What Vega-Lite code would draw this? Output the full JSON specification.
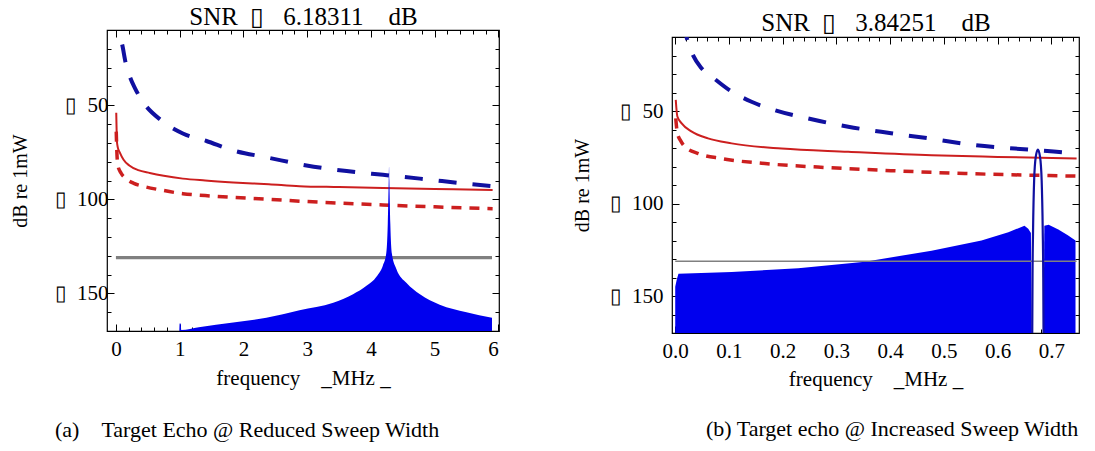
{
  "$schema": "https://vega.github.io/schema/vega-lite/v6.json",
  "autosize": {"type": "pad"},
  "padding": {"left": 9, "top": 3, "right": 5, "bottom": 5},
  "background": "white",
  "config": {
    "view": {"stroke": "black", "strokeWidth": 1.2},
    "font": "Liberation Serif",
    "axis": {"grid": false, "domain": false, "tickColor": "black", "labelColor": "black", "titleColor": "black", "labelFont": "Liberation Serif", "titleFont": "Liberation Serif", "labelFontSize": 21, "titleFontSize": 21, "titleFontWeight": "normal", "tickWidth": 1}
  },
  "datasets": {
    "L": [
      {"s": "bd", "f": 0.02, "v": 0}, {"s": "bd", "f": 0.035, "v": -10}, {"s": "bd", "f": 0.1, "v": -18}, {"s": "bd", "f": 0.15, "v": -27}, {"s": "bd", "f": 0.21, "v": -34}, {"s": "bd", "f": 0.3, "v": -41}, {"s": "bd", "f": 0.42, "v": -48}, {"s": "bd", "f": 0.71, "v": -58}, {"s": "bd", "f": 1.05, "v": -65}, {"s": "bd", "f": 1.42, "v": -69}, {"s": "bd", "f": 1.84, "v": -74}, {"s": "bd", "f": 2.41, "v": -78}, {"s": "bd", "f": 2.99, "v": -82}, {"s": "bd", "f": 3.62, "v": -85}, {"s": "bd", "f": 4.19, "v": -87}, {"s": "bd", "f": 4.77, "v": -89}, {"s": "bd", "f": 5.58, "v": -92}, {"s": "bd", "f": 5.9, "v": -93},
      {"s": "rs", "f": 0.005, "v": -54}, {"s": "rs", "f": 0.01, "v": -62}, {"s": "rs", "f": 0.015, "v": -69}, {"s": "rs", "f": 0.03, "v": -72.5}, {"s": "rs", "f": 0.06, "v": -75}, {"s": "rs", "f": 0.12, "v": -79}, {"s": "rs", "f": 0.21, "v": -82}, {"s": "rs", "f": 0.35, "v": -84.5}, {"s": "rs", "f": 0.53, "v": -86}, {"s": "rs", "f": 0.75, "v": -87.5}, {"s": "rs", "f": 1.05, "v": -89}, {"s": "rs", "f": 1.4, "v": -90}, {"s": "rs", "f": 1.84, "v": -91}, {"s": "rs", "f": 2.4, "v": -92}, {"s": "rs", "f": 2.88, "v": -93}, {"s": "rs", "f": 3.5, "v": -93.5}, {"s": "rs", "f": 4.19, "v": -94}, {"s": "rs", "f": 5.0, "v": -94.5}, {"s": "rs", "f": 5.91, "v": -95},
      {"s": "rd", "f": 0.005, "v": -64}, {"s": "rd", "f": 0.015, "v": -75}, {"s": "rd", "f": 0.03, "v": -82}, {"s": "rd", "f": 0.08, "v": -86}, {"s": "rd", "f": 0.16, "v": -89}, {"s": "rd", "f": 0.28, "v": -91.5}, {"s": "rd", "f": 0.42, "v": -93}, {"s": "rd", "f": 0.7, "v": -95}, {"s": "rd", "f": 1.05, "v": -97}, {"s": "rd", "f": 1.4, "v": -98}, {"s": "rd", "f": 1.84, "v": -99}, {"s": "rd", "f": 2.4, "v": -100}, {"s": "rd", "f": 2.88, "v": -101}, {"s": "rd", "f": 3.5, "v": -102}, {"s": "rd", "f": 4.19, "v": -103}, {"s": "rd", "f": 5.0, "v": -104}, {"s": "rd", "f": 5.91, "v": -105},
      {"s": "g", "f": 0, "v": -131}, {"s": "g", "f": 5.9, "v": -131},
      {"s": "sp", "f": 0.995, "v": -170}, {"s": "sp", "f": 1.0, "v": -166}, {"s": "sp", "f": 1.015, "v": -166}, {"s": "sp", "f": 1.025, "v": -169.5}, {"s": "sp", "f": 1.3, "v": -168}, {"s": "sp", "f": 1.84, "v": -165.5}, {"s": "sp", "f": 2.36, "v": -163}, {"s": "sp", "f": 2.88, "v": -159}, {"s": "sp", "f": 3.41, "v": -155}, {"s": "sp", "f": 3.72, "v": -150.5}, {"s": "sp", "f": 3.93, "v": -146}, {"s": "sp", "f": 4.09, "v": -141}, {"s": "sp", "f": 4.19, "v": -135}, {"s": "sp", "f": 4.24, "v": -129}, {"s": "sp", "f": 4.265, "v": -113}, {"s": "sp", "f": 4.28, "v": -90}, {"s": "sp", "f": 4.285, "v": -82.5}, {"s": "sp", "f": 4.29, "v": -90}, {"s": "sp", "f": 4.305, "v": -113}, {"s": "sp", "f": 4.33, "v": -129}, {"s": "sp", "f": 4.4, "v": -137}, {"s": "sp", "f": 4.56, "v": -144.5}, {"s": "sp", "f": 4.77, "v": -150.5}, {"s": "sp", "f": 5.08, "v": -156}, {"s": "sp", "f": 5.5, "v": -160}, {"s": "sp", "f": 5.9, "v": -163}
    ],
    "R": [
      {"s": "bd", "f": 0.015, "v": -2}, {"s": "bd", "f": 0.021, "v": -10}, {"s": "bd", "f": 0.03, "v": -17.8}, {"s": "bd", "f": 0.049, "v": -26.9}, {"s": "bd", "f": 0.068, "v": -31.4}, {"s": "bd", "f": 0.105, "v": -39.5}, {"s": "bd", "f": 0.142, "v": -45}, {"s": "bd", "f": 0.185, "v": -49.5}, {"s": "bd", "f": 0.247, "v": -54}, {"s": "bd", "f": 0.322, "v": -58.5}, {"s": "bd", "f": 0.402, "v": -62}, {"s": "bd", "f": 0.477, "v": -65}, {"s": "bd", "f": 0.557, "v": -68.4}, {"s": "bd", "f": 0.632, "v": -70.3}, {"s": "bd", "f": 0.725, "v": -72.4}, {"s": "bd", "f": 0.745, "v": -73},
      {"s": "rs", "f": 0.001, "v": -44}, {"s": "rs", "f": 0.002, "v": -48}, {"s": "rs", "f": 0.004, "v": -53}, {"s": "rs", "f": 0.012, "v": -56.7}, {"s": "rs", "f": 0.03, "v": -61}, {"s": "rs", "f": 0.061, "v": -64.8}, {"s": "rs", "f": 0.105, "v": -67.5}, {"s": "rs", "f": 0.198, "v": -70.3}, {"s": "rs", "f": 0.322, "v": -72}, {"s": "rs", "f": 0.477, "v": -73.9}, {"s": "rs", "f": 0.6, "v": -74.8}, {"s": "rs", "f": 0.747, "v": -75.7},
      {"s": "rd", "f": 0.001, "v": -54}, {"s": "rd", "f": 0.004, "v": -62}, {"s": "rd", "f": 0.01, "v": -66}, {"s": "rd", "f": 0.018, "v": -69.3}, {"s": "rd", "f": 0.043, "v": -73}, {"s": "rd", "f": 0.086, "v": -75.7}, {"s": "rd", "f": 0.167, "v": -78.4}, {"s": "rd", "f": 0.29, "v": -80.7}, {"s": "rd", "f": 0.415, "v": -82.4}, {"s": "rd", "f": 0.539, "v": -83.8}, {"s": "rd", "f": 0.663, "v": -84.7}, {"s": "rd", "f": 0.747, "v": -85.2},
      {"s": "g", "f": 0, "v": -131.2}, {"s": "g", "f": 0.747, "v": -131.2},
      {"s": "sp", "seg": 1, "f": 0.0, "v": -145}, {"s": "sp", "seg": 1, "f": 0.003, "v": -141}, {"s": "sp", "seg": 1, "f": 0.006, "v": -138}, {"s": "sp", "seg": 1, "f": 0.105, "v": -137}, {"s": "sp", "seg": 1, "f": 0.229, "v": -135}, {"s": "sp", "seg": 1, "f": 0.353, "v": -131.5}, {"s": "sp", "seg": 1, "f": 0.477, "v": -125.5}, {"s": "sp", "seg": 1, "f": 0.57, "v": -120}, {"s": "sp", "seg": 1, "f": 0.62, "v": -115.6}, {"s": "sp", "seg": 1, "f": 0.65, "v": -112}, {"s": "sp", "seg": 1, "f": 0.657, "v": -113.7}, {"s": "sp", "seg": 1, "f": 0.662, "v": -116}, {"s": "sp", "seg": 1, "f": 0.6635, "v": -170},
      {"s": "sp", "seg": 2, "f": 0.6855, "v": -170}, {"s": "sp", "seg": 2, "f": 0.687, "v": -112}, {"s": "sp", "seg": 2, "f": 0.695, "v": -111.5}, {"s": "sp", "seg": 2, "f": 0.713, "v": -114}, {"s": "sp", "seg": 2, "f": 0.73, "v": -117}, {"s": "sp", "seg": 2, "f": 0.745, "v": -120},
      {"s": "lobe", "f": 0.6645, "v": -170}, {"s": "lobe", "f": 0.665, "v": -140}, {"s": "lobe", "f": 0.666, "v": -114.6}, {"s": "lobe", "f": 0.668, "v": -87.4}, {"s": "lobe", "f": 0.671, "v": -74.8}, {"s": "lobe", "f": 0.675, "v": -70.8}, {"s": "lobe", "f": 0.679, "v": -74.8}, {"s": "lobe", "f": 0.682, "v": -87.4}, {"s": "lobe", "f": 0.684, "v": -114.6}, {"s": "lobe", "f": 0.685, "v": -140}, {"s": "lobe", "f": 0.6855, "v": -170}
    ]
  },
  "hconcat": [
    {
      "width": 392,
      "height": 301,
      "title": {"text": "(a)\u00a0\u00a0\u00a0\u00a0Target Echo @ Reduced Sweep Width", "orient": "bottom", "anchor": "start", "frame": "group", "dx": -52, "offset": 32, "font": "Liberation Serif", "fontSize": 22, "fontWeight": "normal", "color": "black"},
      "resolve": {"axis": {"x": "independent", "y": "independent"}},
      "data": {"name": "L"},
      "layer": [
        {
          "transform": [{"filter": "datum.s == 'g'"}],
          "mark": {"type": "line", "color": "#808080", "strokeWidth": 3.4, "clip": true},
          "encoding": {
            "x": {"field": "f", "type": "quantitative", "scale": {"domain": [-0.14, 6.01], "nice": false, "zero": false},
                  "axis": {"orient": "bottom", "values": [0.2,0.4,0.6,0.8,1.2,1.4,1.6,1.8,2.2,2.4,2.6,2.8,3.2,3.4,3.6,3.8,4.2,4.4,4.6,4.8,5.2,5.4,5.6,5.8], "tickSize": -4, "labels": false, "title": null}},
            "y": {"field": "v", "type": "quantitative", "scale": {"domain": [-170, -10], "nice": false, "zero": false},
                  "axis": {"orient": "left", "values": [-20,-30,-40,-60,-70,-80,-90,-110,-120,-130,-140,-160], "tickSize": -4, "labels": false, "title": null}}
          }
        },
        {
          "transform": [{"filter": "datum.s == 'rs'"}],
          "mark": {"type": "line", "color": "#cc1f1f", "strokeWidth": 2, "clip": true, "interpolate": "monotone"},
          "encoding": {
            "x": {"field": "f", "type": "quantitative", "axis": {"orient": "top", "values": [0,1,2,3,4,5,6], "tickSize": -7, "labels": false, "title": "SNR\u00a0\u00a0\u25af\u00a0\u00a0\u00a06.18311\u00a0\u00a0\u00a0\u00a0dB", "titleFontSize": 25, "titlePadding": 0}},
            "y": {"field": "v", "type": "quantitative", "axis": {"orient": "right", "values": [-50, -100, -150], "tickSize": -7, "labels": false, "title": null}}
          }
        },
        {
          "transform": [{"filter": "datum.s == 'rd'"}],
          "mark": {"type": "line", "color": "#cc1f1f", "strokeWidth": 3.5, "strokeDash": [10, 8], "clip": true, "interpolate": "monotone"},
          "encoding": {
            "x": {"field": "f", "type": "quantitative", "axis": {"orient": "top", "values": [0.2,0.4,0.6,0.8,1.2,1.4,1.6,1.8,2.2,2.4,2.6,2.8,3.2,3.4,3.6,3.8,4.2,4.4,4.6,4.8,5.2,5.4,5.6,5.8], "tickSize": -4, "labels": false, "title": null}},
            "y": {"field": "v", "type": "quantitative", "axis": {"orient": "right", "values": [-20,-30,-40,-60,-70,-80,-90,-110,-120,-130,-140,-160], "tickSize": -4, "labels": false, "title": null}}
          }
        },
        {
          "transform": [{"filter": "datum.s == 'bd'"}],
          "mark": {"type": "line", "color": "#1010a0", "strokeWidth": 4, "strokeDash": [18, 16], "clip": true, "interpolate": "monotone"},
          "encoding": {
            "x": {"field": "f", "type": "quantitative", "axis": null},
            "y": {"field": "v", "type": "quantitative", "axis": null}
          }
        },
        {
          "transform": [{"filter": "datum.s == 'sp'"}],
          "mark": {"type": "area", "color": "#0000ee", "clip": true, "interpolate": "monotone"},
          "encoding": {
            "x": {"field": "f", "type": "quantitative",
                  "axis": {"orient": "bottom", "values": [0,1,2,3,4,5,6], "tickSize": -7, "labelPadding": 14, "title": "frequency\u00a0\u00a0\u00a0\u00a0_MHz\u00a0_", "titlePadding": 8}},
            "y": {"field": "v", "type": "quantitative",
                  "axis": {"orient": "left", "values": [-50, -100, -150], "tickSize": -7, "labelPadding": 6, "labelExpr": "'\u25af\u00a0\u00a0' + (-datum.value)", "title": "dB re 1mW", "titleFontSize": 20, "titlePadding": 24}},
            "y2": {"datum": -170}
          }
        }
      ]
    },
    {
      "vconcat": [
        {
          "width": 407,
          "height": 7,
          "view": {"stroke": null},
          "data": {"values": [{"k": 1}]},
          "mark": {"type": "point", "opacity": 0}
        },
        {
          "width": 407,
          "height": 296,
          "title": {"text": "(b) Target echo @ Increased Sweep Width", "orient": "bottom", "anchor": "start", "frame": "group", "dx": 34, "offset": 30, "font": "Liberation Serif", "fontSize": 22, "fontWeight": "normal", "color": "black"},
          "resolve": {"axis": {"x": "independent", "y": "independent"}},
          "data": {"name": "R"},
          "layer": [
            {
              "transform": [{"filter": "datum.s == 'sp'"}],
              "mark": {"type": "area", "color": "#0000ee", "clip": true},
              "encoding": {
                "x": {"field": "f", "type": "quantitative", "scale": {"domain": [-0.006, 0.7515], "nice": false, "zero": false},
                      "axis": {"orient": "bottom", "values": [0,0.1,0.2,0.3,0.4,0.5,0.6,0.7], "format": ".1f", "tickSize": -7, "labelPadding": 14, "title": "frequency\u00a0\u00a0\u00a0\u00a0_MHz\u00a0_", "titlePadding": 7}},
                "y": {"field": "v", "type": "quantitative", "scale": {"domain": [-170, -10], "nice": false, "zero": false},
                      "axis": {"orient": "left", "values": [-50, -100, -150], "tickSize": -7, "labelPadding": 16, "labelExpr": "'\u25af\u00a0\u00a0' + (-datum.value)", "title": "dB re 1mW", "titleFontSize": 20, "titlePadding": 17}},
                "y2": {"datum": -170},
                "detail": {"field": "seg"}
              }
            },
            {
              "transform": [{"filter": "datum.s == 'g'"}],
              "mark": {"type": "line", "color": "#808080", "strokeWidth": 1.6, "clip": true},
              "encoding": {
                "x": {"field": "f", "type": "quantitative",
                      "axis": {"orient": "bottom", "values": [0.02,0.04,0.06,0.08,0.12,0.14,0.16,0.18,0.22,0.24,0.26,0.28,0.32,0.34,0.36,0.38,0.42,0.44,0.46,0.48,0.52,0.54,0.56,0.58,0.62,0.64,0.66,0.68,0.72,0.74], "tickSize": -4, "labels": false, "title": null}},
                "y": {"field": "v", "type": "quantitative",
                      "axis": {"orient": "left", "values": [-20,-30,-40,-60,-70,-80,-90,-110,-120,-130,-140,-160], "tickSize": -4, "labels": false, "title": null}}
              }
            },
            {
              "transform": [{"filter": "datum.s == 'rs'"}],
              "mark": {"type": "line", "color": "#cc1f1f", "strokeWidth": 2, "clip": true, "interpolate": "monotone"},
              "encoding": {
                "x": {"field": "f", "type": "quantitative", "axis": {"orient": "top", "values": [0,0.1,0.2,0.3,0.4,0.5,0.6,0.7], "tickSize": -7, "labels": false, "title": "SNR\u00a0\u00a0\u25af\u00a0\u00a0\u00a03.84251\u00a0\u00a0\u00a0\u00a0dB", "titleFontSize": 25, "titlePadding": 1}},
                "y": {"field": "v", "type": "quantitative", "axis": {"orient": "right", "values": [-50, -100, -150], "tickSize": -7, "labels": false, "title": null}}
              }
            },
            {
              "transform": [{"filter": "datum.s == 'rd'"}],
              "mark": {"type": "line", "color": "#cc1f1f", "strokeWidth": 3.5, "strokeDash": [10, 8], "clip": true, "interpolate": "monotone"},
              "encoding": {
                "x": {"field": "f", "type": "quantitative", "axis": {"orient": "top", "values": [0.02,0.04,0.06,0.08,0.12,0.14,0.16,0.18,0.22,0.24,0.26,0.28,0.32,0.34,0.36,0.38,0.42,0.44,0.46,0.48,0.52,0.54,0.56,0.58,0.62,0.64,0.66,0.68,0.72,0.74], "tickSize": -4, "labels": false, "title": null}},
                "y": {"field": "v", "type": "quantitative", "axis": {"orient": "right", "values": [-20,-30,-40,-60,-70,-80,-90,-110,-120,-130,-140,-160], "tickSize": -4, "labels": false, "title": null}}
              }
            },
            {
              "transform": [{"filter": "datum.s == 'bd'"}],
              "mark": {"type": "line", "color": "#1010a0", "strokeWidth": 4, "strokeDash": [18, 16], "clip": true, "interpolate": "monotone"},
              "encoding": {
                "x": {"field": "f", "type": "quantitative", "axis": null},
                "y": {"field": "v", "type": "quantitative", "axis": null}
              }
            },
            {
              "transform": [{"filter": "datum.s == 'lobe'"}],
              "mark": {"type": "line", "color": "#1010a0", "strokeWidth": 2.2, "clip": true, "interpolate": "monotone"},
              "encoding": {
                "x": {"field": "f", "type": "quantitative", "axis": null},
                "y": {"field": "v", "type": "quantitative", "axis": null}
              }
            }
          ]
        }
      ],
      "spacing": 0,
      "bounds": "flush"
    }
  ],
  "spacing": 70
}
